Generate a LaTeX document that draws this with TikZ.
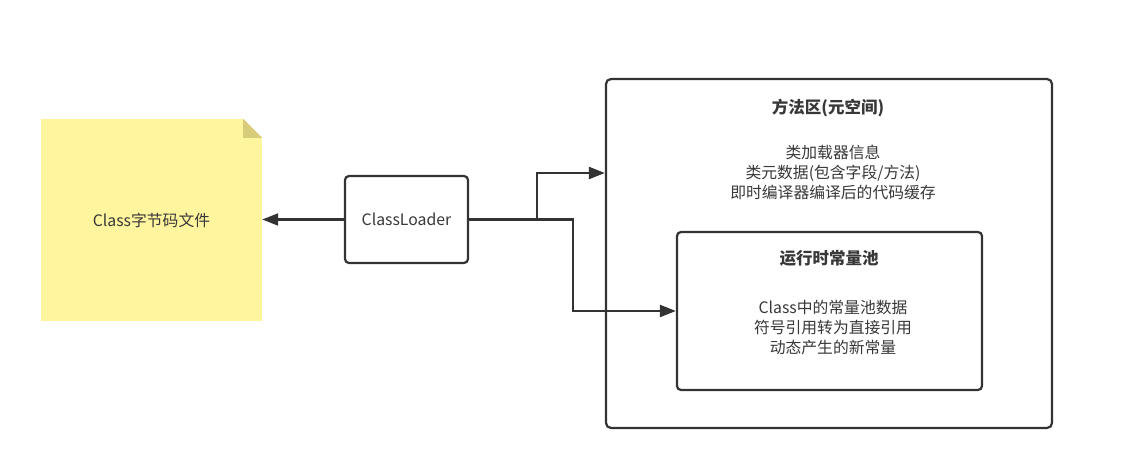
\documentclass[tikz,border=0pt]{standalone}
\usepackage{fontspec}
\setmainfont{Noto Sans CJK SC}
\usetikzlibrary{arrows.meta}
\definecolor{linec}{HTML}{333333}
\definecolor{textc}{HTML}{383838}
\definecolor{notey}{HTML}{FFF59F}
\definecolor{corner}{HTML}{D6CC7A}
\tikzset{
  box/.style={draw=linec, line width=2.2pt, rounded corners=4pt, fill=white},
  txt/.style={text=textc, font=\fontsize{15.8}{20}\selectfont, align=center, inner sep=0pt},
  ttl/.style={text=textc, font=\fontsize{16.5}{20}\selectfont\bfseries, inner sep=0pt},
  arr/.style={draw=linec, line width=2.2pt, -{Triangle[length=16pt,width=12pt]}},
}
\begin{document}
\begin{tikzpicture}[x=1pt,y=-1pt]
\useasboundingbox (0,0) rectangle (1130,462);
% sticky note
\node[fill=notey, minimum width=221pt, minimum height=202pt, inner sep=0pt] (note) at (151.5,220) {};
\fill[white] (note.north east) -- ++(-19,0) -- ++(19,19) -- cycle;
\fill[corner] (note.north east) ++(-19,0) -- ++(19,19) -- ++(-19,0) -- cycle;
\node[txt] (notetxt) at (note.center) {Class字节码文件};
% ClassLoader
\node[box, minimum width=123pt, minimum height=87pt, inner sep=0pt] (cl) at (406.5,219.5) {};
\node[txt] (cltxt) at (cl.center) {ClassLoader};
% outer box
\node[box, rounded corners=5pt, minimum width=446pt, minimum height=349pt, inner sep=0pt] (outer) at (829,253.5) {};
\node[ttl] (outerttl) at (828,108) {方法区(元空间)};
\node[txt] (outertxt) at (833,172) {类加载器信息\\类元数据(包含字段/方法)\\即时编译器编译后的代码缓存};
% inner box
\node[box, minimum width=305pt, minimum height=158pt, inner sep=0pt] (inner) at (829.5,311) {};
\node[ttl] (innerttl) at (829,258) {运行时常量池};
\node[txt] (innertxt) at (833,327.5) {Class中的常量池数据\\符号引用转为直接引用\\动态产生的新常量};
% connectors
\coordinate (a1) at (537,173);
\coordinate (a2) at (573,311);
\draw[arr] (cl.west) -- (note.east |- cl.west);
\draw[arr] (cl.east) -| (a1) -- (outer.west |- a1);
\draw[arr] (cl.east) -| (a2) -- (inner.west |- a2);
\end{tikzpicture}
\end{document}
